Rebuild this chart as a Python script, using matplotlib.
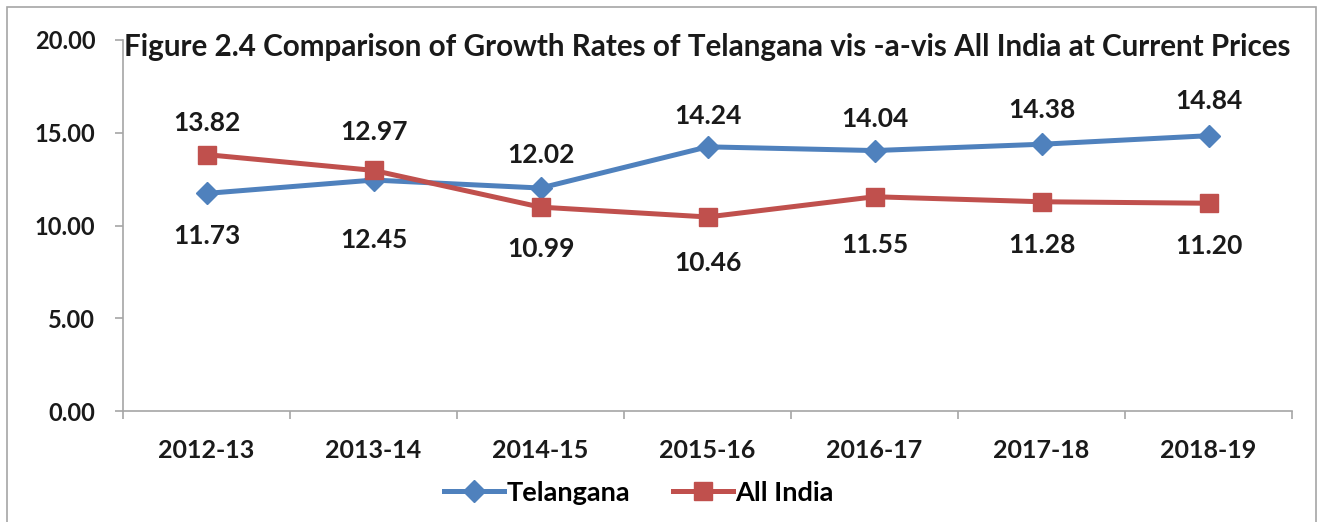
import matplotlib.pyplot as plt
from matplotlib.patches import Rectangle

years = ["2012-13", "2013-14", "2014-15", "2015-16", "2016-17", "2017-18", "2018-19"]
telangana = [11.73, 12.45, 12.02, 14.24, 14.04, 14.38, 14.84]
all_india = [13.82, 12.97, 10.99, 10.46, 11.55, 11.28, 11.20]

# label offsets in points (negative = below the marker)
tel_off = [-31, -43, 24, 22, 23, 25, 25]
ind_off = [23, 28, -30, -33, -35, -31, -31]

plt.rcParams['font.family'] = ['Lato', 'DejaVu Sans']
plt.rcParams['font.weight'] = 'bold'

blue = '#4F81BD'
red = '#C0504D'
grey = '#A6A6A6'
dark = '#1a1a1a'

fig = plt.figure(figsize=(13.23, 5.22), dpi=100)
ax = fig.add_axes([0.093, 0.2126, 0.8836, 0.7108])

x = list(range(len(years)))
ax.plot(x, telangana, color=blue, lw=3.6, marker='D', ms=11, label='Telangana', zorder=3)
ax.plot(x, all_india, color=red, lw=3.6, marker='s', ms=13, label='All India', zorder=3)

for xi, v, off in zip(x, telangana, tel_off):
    ax.annotate(f"{v:.2f}", (xi, v), xytext=(0, off), textcoords='offset points',
                ha='center', va='center', fontsize=19, fontweight='bold', color=dark)
for xi, v, off in zip(x, all_india, ind_off):
    ax.annotate(f"{v:.2f}", (xi, v), xytext=(0, off), textcoords='offset points',
                ha='center', va='center', fontsize=19, fontweight='bold', color=dark)

ax.set_xlim(-0.5, len(years) - 0.5)
ax.set_ylim(0, 20)
ax.set_yticks([0, 5, 10, 15, 20])
ax.set_yticklabels([f"{t:.2f}" for t in [0, 5, 10, 15, 20]])
ax.set_xticks(x)
ax.set_xticklabels(years)
ax.set_xticks([i - 0.5 for i in range(len(years) + 1)], minor=True)
ax.tick_params(axis='x', which='major', length=0, pad=20, labelsize=18)
ax.tick_params(axis='x', which='minor', length=6, color=grey, width=1.2)
ax.tick_params(axis='y', length=6, color=grey, width=1.2, pad=14, labelsize=17)
for lab in ax.get_xticklabels() + ax.get_yticklabels():
    lab.set_fontweight('bold')
    lab.set_color(dark)

for s in ['top', 'right']:
    ax.spines[s].set_visible(False)
for s in ['left', 'bottom']:
    ax.spines[s].set_color(grey)
    ax.spines[s].set_linewidth(1.2)

ax.text(0.5, 0.98, "Figure 2.4 Comparison of Growth Rates of Telangana vis -a-vis All India at Current Prices",
        transform=ax.transAxes, ha='center', va='center', fontsize=21.3, fontweight='bold', color=dark)

fig.legend(loc='center', bbox_to_anchor=(0.483, 0.0556), ncol=2, frameon=False,
           handlelength=2.2, handletextpad=0.1, columnspacing=1.6,
           prop={'weight': 'bold', 'size': 19.5})

fig.add_artist(Rectangle((7 / 1323, -0.1), 1309 / 1323, 1.1 - 7 / 522, transform=fig.transFigure,
                         fill=False, edgecolor=grey, lw=1.2))

fig.savefig('out.png', dpi=100)
